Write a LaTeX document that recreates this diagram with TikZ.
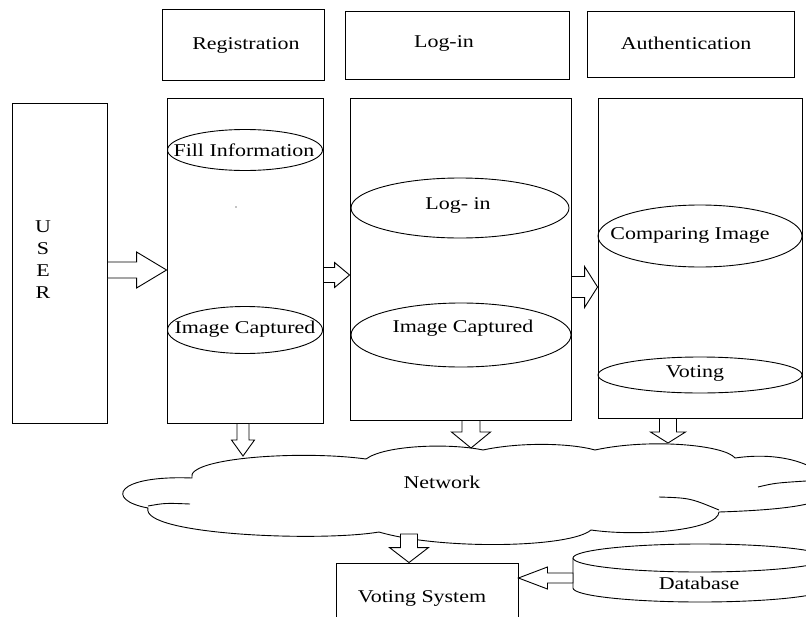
\documentclass[tikz,border=0pt]{standalone}
\usepackage{fontspec}
\setmainfont{Liberation Serif}[FakeStretch=1.22]
\usetikzlibrary{shapes.geometric,calc}
\newcommand\harrow[5]{\draw[barr] let \p1=(#1), \p2=(#2) in
  ({\x1},{\y2+#3pt}) -- ({\x2-(#5pt)},{\y2+#3pt}) -- ({\x2-(#5pt)},{\y2+#4pt}) -- (\x2,\y2)
  -- ({\x2-(#5pt)},{\y2-#4pt}) -- ({\x2-(#5pt)},{\y2-#3pt}) -- ({\x1},{\y2-#3pt}) -- cycle;}
\newcommand\varrow[5]{\draw[barr] let \p1=(#1), \p2=(#2) in
  ({\x2+#3pt},{\y1}) -- ({\x2+#3pt},{\y2+#5pt}) -- ({\x2+#4pt},{\y2+#5pt}) -- (\x2,\y2)
  -- ({\x2-#4pt},{\y2+#5pt}) -- ({\x2-#3pt},{\y2+#5pt}) -- ({\x2-#3pt},{\y1}) -- cycle;}
\begin{document}
\begin{tikzpicture}[x=1pt,y=-1pt,line width=0.9pt,
  box/.style={draw,rectangle,inner sep=0pt},
  ell/.style={draw,ellipse,inner sep=0pt},
  lbl/.style={font=\fontsize{18}{22}\selectfont,inner sep=0pt},
  barr/.style={draw,fill=white,line join=miter}]
\useasboundingbox (0,0) rectangle (806,616);
\clip (0,0) rectangle (806,616);
\fill[white] (0,0) rectangle (806,616);

% header boxes
\node[box,minimum width=162pt,minimum height=71pt] (regT) at (243,44.5) {};
\node[lbl] (regTt) at (246,45) {Registration};
\node[box,minimum width=224pt,minimum height=68pt] (loginT) at (457,45) {};
\node[lbl] (loginTt) at (444,43) {Log-in};
\node[box,minimum width=207pt,minimum height=66pt] (authT) at (690.5,44) {};
\node[lbl] (authTt) at (686,43) {Authentication};

% main columns
\node[box,minimum width=95pt,minimum height=320pt] (user) at (59.5,263) {};
\node[lbl,align=center] (usertxt) at (43,260) {U\\S\\E\\R};
\node[box,minimum width=156pt,minimum height=325pt] (reg) at (245,260.5) {};
\node[box,minimum width=221pt,minimum height=322pt] (login) at (460.5,259) {};
\node[box,minimum width=204pt,minimum height=320pt] (auth) at (700,258) {};

% ellipses
\node[ell,minimum width=155pt,minimum height=41pt] (fillinfo) at (245,150) {};
\node[lbl] (fillinfot) at (244,150) {Fill Information};
\fill (236,207) circle (0.7pt);
\node[ell,minimum width=155pt,minimum height=47pt] (imgreg) at (245,330) {};
\node[lbl] (imgregt) at (245,329) {Image Captured};
\node[ell,minimum width=218pt,minimum height=60pt] (loginE) at (460,208) {};
\node[lbl] (loginEt) at (458,205) {Log- in};
\node[ell,minimum width=220pt,minimum height=64pt] (imglog) at (461,335) {};
\node[lbl] (imglogt) at (463,328) {Image Captured};
\node[ell,minimum width=204pt,minimum height=62pt] (comp) at (700,236) {};
\node[lbl] (compt) at (690,235) {Comparing Image};
\node[ell,minimum width=204pt,minimum height=36pt] (vote) at (700,375) {};
\node[lbl] (votet) at (695,373) {Voting};

% cloud
\draw[fill=white] (192,478) .. controls (185,458) and (300,450) .. (366,459)
  .. controls (385,445) and (450,443) .. (483,450)
  .. controls (520,442) and (570,443) .. (595,450)
  .. controls (650,438) and (725,445) .. (735,458)
  .. controls (790,450) and (830,470) .. (830,490)
  .. controls (830,505) and (780,510) .. (719,512)
  .. controls (718,530) and (640,537) .. (591,530)
  .. controls (570,548) and (440,550) .. (379,532)
  .. controls (320,542) and (140,535) .. (148,508)
  .. controls (105,500) and (115,475) .. (192,478) -- cycle;
\draw (758,487) .. controls (775,483) .. (806,481);
\draw (659,497) .. controls (690,498) .. (719,510);
\draw (148,506) .. controls (165,503) .. (190,504);
\node[lbl] (net) at (442,482) {Network};
\coordinate (cA) at (243,456);
\coordinate (cB) at (471,448);
\coordinate (cC) at (668,443);
\coordinate (cD) at (409,534);

% voting system and database
\node[box,minimum width=182pt,minimum height=80pt] (vs) at (427,603) {};
\node[lbl] (vst) at (422,598) {Voting System};
\draw[fill=white] (573,558) -- (573,588) arc[start angle=180,end angle=360,x radius=127pt,y radius=14pt] -- (827,558);
\draw[fill=white] (700,558) ellipse [x radius=127pt,y radius=14pt];
\node[lbl] (dbt) at (699,583) {Database};
\coordinate (db) at (573,578);

% arrow end points on the named nodes
\coordinate (a1s) at (user.east |- 0,270);
\coordinate (a1t) at (reg.west |- 0,270);
\coordinate (a2s) at (reg.east |- 0,275);
\coordinate (a2t) at (login.west |- 0,275);
\coordinate (a3s) at (login.east |- 0,287);
\coordinate (a3t) at (auth.west |- 0,287);
\coordinate (a4s) at (reg.south -| 243,0);
\coordinate (a5s) at (login.south -| 471,0);
\coordinate (a6s) at (auth.south -| 668,0);
\coordinate (a7t) at (vs.north -| 409,0);
\coordinate (a8t) at (vs.east |- 0,578);

% block arrows
\harrow{a1s}{a1t}{8}{18}{30}
\harrow{a2s}{a2t}{7.5}{12.5}{15}
\harrow{a3s}{a3t}{10.5}{20.5}{13}
\varrow{a4s}{cA}{6}{11.5}{16}
\varrow{a5s}{cB}{9}{19.5}{16}
\varrow{a6s}{cC}{8.5}{17.5}{11}
\varrow{cD}{a7t}{8.5}{19.5}{15}
\harrow{db}{a8t}{5}{11}{-29}
\end{tikzpicture}
\end{document}
